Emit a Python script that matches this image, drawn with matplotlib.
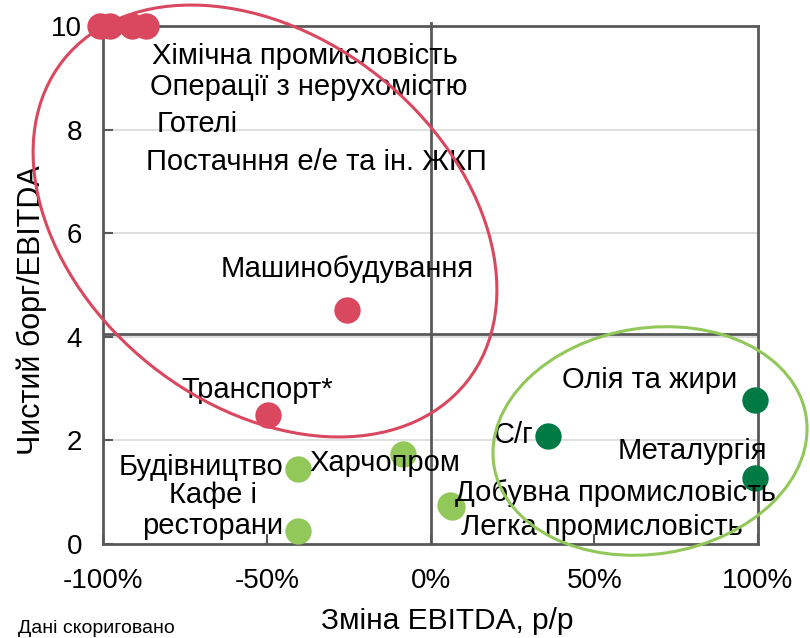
import matplotlib
matplotlib.use("Agg")
import matplotlib.pyplot as plt
from matplotlib.patches import Ellipse
from matplotlib.transforms import IdentityTransform
from matplotlib.ticker import FuncFormatter

plt.rcParams['font.family'] = ['Liberation Sans', 'DejaVu Sans']

# ---- data ----
# red group (high debt)
red_names = ["Хімічна промисловість", "Операції з нерухомістю", "Готелі",
             "Постачння е/е та ін. ЖКП", "Машинобудування", "Транспорт*"]
red_x = [-101, -98, -91, -87, -25.5, -49.5]
red_y = [10, 10, 10, 10, 4.52, 2.49]

# light green group
lg_names = ["Будівництво", "Кафе і\nресторани", "Харчопром",
            "Добувна промисловість", "Легка промисловість"]
lg_x = [-40.5, -40.5, -8.3, 6.0, 6.6]
lg_y = [1.45, 0.25, 1.74, 0.76, 0.71]

# dark green group
dg_names = ["С/г", "Олія та жири", "Металургія"]
dg_x = [36, 99, 99]
dg_y = [2.08, 2.78, 1.27]

x_ticks = [-100, -50, 0, 50, 100]
y_ticks = [0, 2, 4, 6, 8, 10]

# label placements (annotation positions, data coords): x, y, ha
red_lab = [(-85, 9.42, 'left'), (-85.5, 8.83, 'left'), (-83.5, 8.1, 'left'),
           (-87, 7.37, 'left'), (-25.5, 5.3, 'center'), (-53, 2.98, 'center')]
lg_lab = [(-45, 1.49, 'right'), (-66.5, 0.64, 'center'), (-37, 1.57, 'left'),
          (7.6, 0.98, 'left'), (9.4, 0.33, 'left')]
dg_lab = [(31.5, 2.1, 'right'), (93.8, 3.16, 'right'), (102.8, 1.79, 'right')]

RED = "#D9485F"
LGREEN = "#92C85A"
DGREEN = "#007A45"
SPINE = "#595959"

fig = plt.figure(figsize=(8.1, 6.38), dpi=100)
ax = fig.add_axes([103/810, 1-544/638, 655/810, 518/638])

ax.set_xlim(-100, 100)
ax.set_ylim(0, 10)
ax.set_xticks(x_ticks)
ax.set_yticks(y_ticks)
ax.xaxis.set_major_formatter(FuncFormatter(lambda v, p: f"{int(v)}%"))

for y in [2, 4, 6, 8]:
    ax.axhline(y, color="#D9D9D9", lw=1.2, zorder=0)
ax.axhline(4.05, color=SPINE, lw=2, zorder=1)
ax.plot([0, 0], [0, 10.06], color=SPINE, lw=2, zorder=1, clip_on=False)

for s in ax.spines.values():
    s.set_color(SPINE)
    s.set_linewidth(2)

ax.tick_params(axis='both', direction='in', length=7, width=1.5, color=SPINE,
               labelsize=20, labelcolor='black')
ax.tick_params(axis='y', pad=15)
ax.tick_params(axis='x', pad=17)

ms = 360
ax.scatter(red_x, red_y, s=ms, color=RED, zorder=3, clip_on=False, linewidths=0)
ax.scatter(lg_x, lg_y, s=ms, color=LGREEN, zorder=3, clip_on=False, linewidths=0)
ax.scatter(dg_x, dg_y, s=ms, color=DGREEN, zorder=3, clip_on=False, linewidths=0)

fs = 21
for names, labs in [(red_names, red_lab), (lg_names, lg_lab), (dg_names, dg_lab)]:
    for n, (lx, ly, ha) in zip(names, labs):
        ax.text(lx, ly, n, ha=ha, va='center', fontsize=fs, color='black',
                zorder=5, clip_on=False, linespacing=1.15)

# circling ellipses (annotation, in pixel coordinates)
e1 = Ellipse((265, 638-221), 516, 368, angle=-38.7, fill=False, edgecolor=RED,
             lw=2.2, transform=IdentityTransform(), zorder=4)
e2 = Ellipse((650, 638-441), 316, 226, angle=9, fill=False, edgecolor=LGREEN,
             lw=2.2, transform=IdentityTransform(), zorder=4)
fig.add_artist(e1)
fig.add_artist(e2)

fig.text(447/810, 1-621/638, "Зміна EBITDA, р/р", ha='center', va='center', fontsize=21.5)
fig.text(32/810, 1-310/638, "Чистий борг/EBITDA", ha='center', va='center',
         rotation=90, fontsize=22)
fig.text(18/810, 1/638, "Дані скориговано", ha='left', va='bottom', fontsize=14)

fig.savefig("out.png", dpi=100)
